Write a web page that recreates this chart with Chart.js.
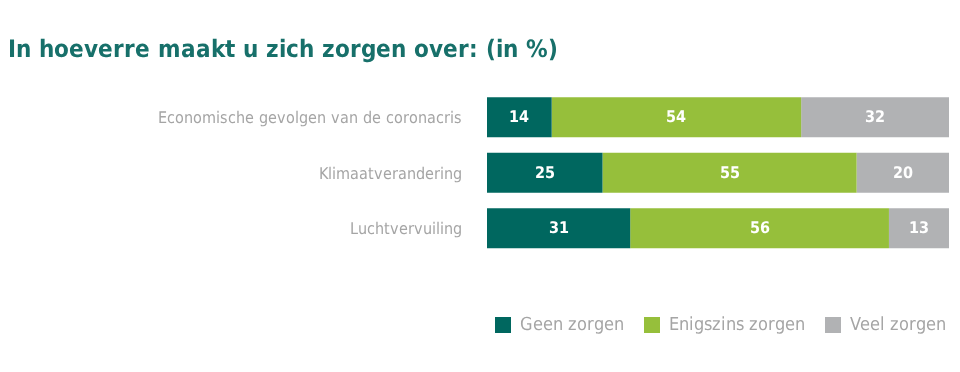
<!DOCTYPE html>
<html>
<head>
<meta charset="utf-8">
<script src="https://cdn.jsdelivr.net/npm/chart.js@4/dist/chart.umd.min.js"></script>
<style>
  html, body { margin: 0; padding: 0; background: #fff; }
  #wrap { width: 960px; height: 372px; }
  @font-face { font-family: 'CondX'; font-weight: normal; src: local('DejaVu Sans Condensed'), local('DejaVuSansCondensed'); }
  @font-face { font-family: 'CondX'; font-weight: bold; src: local('DejaVu Sans Condensed Bold'), local('DejaVuSansCondensed-Bold'); }
</style>
</head>
<body>
<div id="wrap"><canvas id="chart"></canvas></div>
<script>
// data
const categories = ['Economische gevolgen van de coronacris', 'Klimaatverandering', 'Luchtvervuiling'];
const geenZorgen = [14, 25, 31];
const enigszinsZorgen = [54, 55, 56];
const veelZorgen = [32, 20, 13];
const seriesNames = ['Geen zorgen', 'Enigszins zorgen', 'Veel zorgen'];

const font = "CondX, 'DejaVu Sans', sans-serif";

// white numbers in the middle of each segment
const barLabels = {
    id: 'barLabels',
    afterDatasetsDraw(chart) {
        const ctx = chart.ctx;
        ctx.save();
        ctx.fillStyle = '#ffffff';
        ctx.font = 'bold 16px ' + font;
        ctx.textAlign = 'center';
        ctx.textBaseline = 'middle';
        chart.data.datasets.forEach((ds, i) => {
            chart.getDatasetMeta(i).data.forEach((bar, j) => {
                ctx.fillText(ds.data[j], (bar.x + bar.base) / 2, bar.y + 1);
            });
        });
        ctx.restore();
    }
};

// legend sits flush with the right end of the bars
const legendRight = {
    id: 'legendRight',
    afterLayout(chart) {
        chart.legend.right = chart.width + 6;
    }
};

function draw() {
    new Chart(document.getElementById('chart'), {
        type: 'bar',
        data: {
            labels: categories,
            datasets: [
                { label: seriesNames[0], data: geenZorgen, backgroundColor: '#00675f' },
                { label: seriesNames[1], data: enigszinsZorgen, backgroundColor: '#96bf3b' },
                { label: seriesNames[2], data: veelZorgen, backgroundColor: '#b1b2b4' }
            ]
        },
        options: {
            indexAxis: 'y',
            responsive: true,
            maintainAspectRatio: false,
            animation: false,
            barPercentage: 1,
            categoryPercentage: 0.72,
            layout: { padding: { left: 8, right: 11, top: 0, bottom: 28 } },
            scales: {
                x: {
                    stacked: true,
                    min: 0,
                    max: 100,
                    grid: { display: false, drawTicks: false },
                    border: { display: false },
                    ticks: { display: false },
                    afterFit(scale) { scale.height = 40; }
                },
                y: {
                    stacked: true,
                    grid: { display: false, drawTicks: false },
                    border: { display: false },
                    ticks: {
                        padding: 25,
                        labelOffset: 2,
                        color: '#a5a5a5',
                        font: { family: font, size: 16 }
                    },
                    afterFit(scale) { scale.width = 479; }
                }
            },
            plugins: {
                title: {
                    display: true,
                    text: 'In hoeverre maakt u zich zorgen over: (in %)',
                    align: 'start',
                    color: '#17706a',
                    font: { family: font, size: 23.8, weight: 'bold' },
                    padding: { top: 37, bottom: 24 }
                },
                legend: {
                    position: 'bottom',
                    align: 'end',
                    labels: {
                        boxWidth: 16,
                        boxHeight: 16,
                        padding: 20,
                        color: '#a5a5a5',
                        font: { family: font, size: 18 }
                    }
                },
                tooltip: { enabled: false }
            }
        },
        plugins: [barLabels, legendRight]
    });
}

Promise.all([
    document.fonts.load('16px CondX'), document.fonts.load('bold 16px CondX')
]).then(draw, draw);
</script>
</body>
</html>
